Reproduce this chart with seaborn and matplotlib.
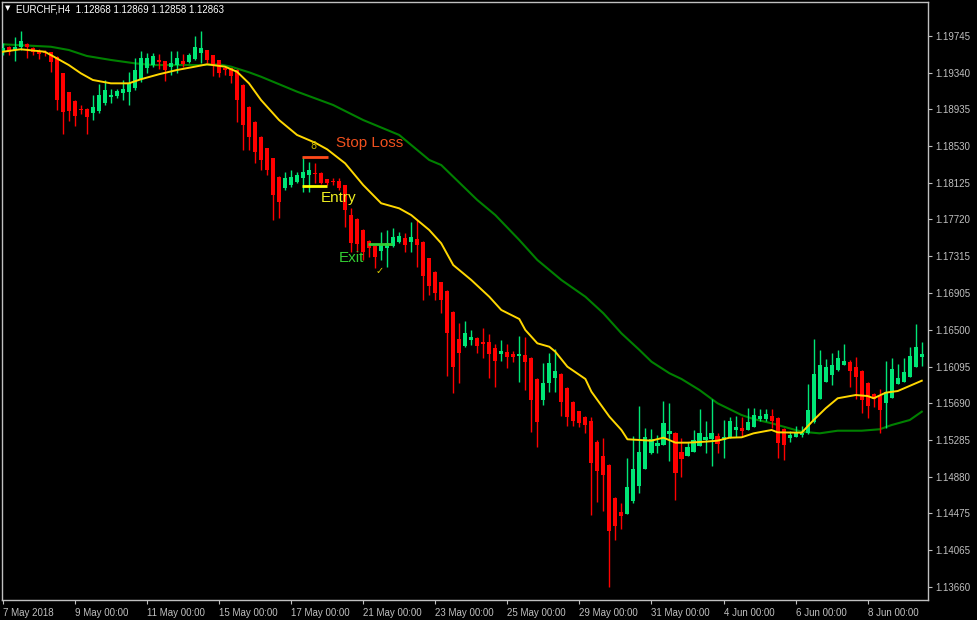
import numpy as np
import pandas as pd
import matplotlib
matplotlib.use("Agg")
import matplotlib.pyplot as plt
import seaborn as sns

# ---------------- data (EURCHF, H4) ----------------
open_ = [1.19571, 1.19626, 1.19590, 1.19626, 1.19653, 1.19609, 1.19582, 1.19571, 1.19565, 1.19516,
         1.19333, 1.19123, 1.19024, 1.18942, 1.18935, 1.18891, 1.18920, 1.19002, 1.19068, 1.19082,
         1.19112, 1.19130, 1.19174, 1.19267, 1.19388, 1.19424, 1.19480, 1.19469, 1.19406, 1.19424,
         1.19472, 1.19454, 1.19487, 1.19554, 1.19590, 1.19535, 1.19480, 1.19395, 1.19388, 1.19369,
         1.19204, 1.18964, 1.18798, 1.18633, 1.18505, 1.18394, 1.18191, 1.18063, 1.18100, 1.18136,
         1.18174, 1.18210, 1.18235, 1.18232, 1.18163, 1.18144, 1.18144, 1.18100, 1.17768, 1.17721,
         1.17603, 1.17485, 1.17426, 1.17371, 1.17401, 1.17426, 1.17474, 1.17511, 1.17474, 1.17507,
         1.17474, 1.17290, 1.17142, 1.17025, 1.16933, 1.16701, 1.16399, 1.16322, 1.16388, 1.16414,
         1.16370, 1.16363, 1.16300, 1.16230, 1.16256, 1.16230, 1.16215, 1.16226, 1.16193, 1.15958,
         1.15726, 1.15917, 1.15966, 1.16013, 1.15859, 1.15704, 1.15601, 1.15538, 1.15494, 1.15262,
         1.15108, 1.15008, 1.14647, 1.14493, 1.14471, 1.14614, 1.14780, 1.14961, 1.15138, 1.15222,
         1.15233, 1.15351, 1.15365, 1.15152, 1.15111, 1.15155, 1.15222, 1.15288, 1.15295, 1.15329,
         1.15284, 1.15318, 1.15395, 1.15420, 1.15395, 1.15431, 1.15513, 1.15516, 1.15550, 1.15527,
         1.15403, 1.15310, 1.15321, 1.15336, 1.15358, 1.15486, 1.15737, 1.15921, 1.16002, 1.16057,
         1.16112, 1.16142, 1.16094, 1.16046, 1.15914, 1.15792, 1.15770, 1.15690, 1.15751, 1.15906,
         1.15925, 1.15983, 1.16094, 1.16197]
high = [1.19667, 1.19634, 1.19737, 1.19800, 1.19664, 1.19626, 1.19601, 1.19590, 1.19571, 1.19524,
        1.19336, 1.19126, 1.19038, 1.18983, 1.18946, 1.19093, 1.19215, 1.19259, 1.19159, 1.19156,
        1.19259, 1.19350, 1.19498, 1.19579, 1.19554, 1.19554, 1.19546, 1.19469, 1.19579, 1.19579,
        1.19543, 1.19560, 1.19745, 1.19800, 1.19590, 1.19535, 1.19480, 1.19406, 1.19391, 1.19380,
        1.19215, 1.18972, 1.18806, 1.18641, 1.18508, 1.18398, 1.18199, 1.18246, 1.18265, 1.18246,
        1.18412, 1.18357, 1.18337, 1.18243, 1.18171, 1.18174, 1.18174, 1.18100, 1.17846, 1.17735,
        1.17614, 1.17492, 1.17437, 1.17584, 1.17603, 1.17622, 1.17584, 1.17566, 1.17694, 1.17713,
        1.17481, 1.17294, 1.17150, 1.17029, 1.16940, 1.16709, 1.16573, 1.16598, 1.16499, 1.16422,
        1.16524, 1.16455, 1.16344, 1.16388, 1.16344, 1.16267, 1.16433, 1.16425, 1.16201, 1.15969,
        1.16138, 1.16248, 1.16289, 1.16024, 1.15870, 1.15715, 1.15605, 1.15544, 1.15542, 1.15284,
        1.15310, 1.15019, 1.14655, 1.14586, 1.15082, 1.15329, 1.15660, 1.15414, 1.15403, 1.15340,
        1.15715, 1.15696, 1.15373, 1.15303, 1.15266, 1.15395, 1.15627, 1.15498, 1.15737, 1.15358,
        1.15505, 1.15542, 1.15550, 1.15542, 1.15634, 1.15634, 1.15623, 1.15627, 1.15623, 1.15538,
        1.15417, 1.15387, 1.15439, 1.15439, 1.15903, 1.16396, 1.16278, 1.16175, 1.16248, 1.16278,
        1.16344, 1.16168, 1.16204, 1.16057, 1.15925, 1.15807, 1.15844, 1.16157, 1.16193, 1.16120,
        1.16186, 1.16314, 1.16565, 1.16363]
low = [1.19535, 1.19535, 1.19472, 1.19590, 1.19502, 1.19535, 1.19491, 1.19524, 1.19350, 1.18928,
       1.18663, 1.18810, 1.18751, 1.18883, 1.18663, 1.18817, 1.18891, 1.18983, 1.19002, 1.19057,
       1.19038, 1.18983, 1.19148, 1.19240, 1.19333, 1.19406, 1.19377, 1.19248, 1.19314, 1.19333,
       1.19406, 1.19443, 1.19480, 1.19450, 1.19443, 1.19303, 1.19295, 1.19314, 1.19222, 1.18798,
       1.18486, 1.18486, 1.18339, 1.18265, 1.18210, 1.17713, 1.17732, 1.18044, 1.18081, 1.18118,
       1.18026, 1.18026, 1.18118, 1.18111, 1.18100, 1.18100, 1.18044, 1.17639, 1.17363, 1.17363,
       1.17272, 1.17308, 1.17180, 1.17272, 1.17198, 1.17418, 1.17456, 1.17363, 1.17363, 1.17198,
       1.16830, 1.16885, 1.16830, 1.16683, 1.15991, 1.15800, 1.15917, 1.16314, 1.16333, 1.16242,
       1.16186, 1.15972, 1.15873, 1.16160, 1.16076, 1.16149, 1.15928, 1.15836, 1.15376, 1.15210,
       1.15671, 1.15818, 1.15818, 1.15553, 1.15439, 1.15439, 1.15431, 1.15367, 1.14456, 1.14603,
       1.14504, 1.13665, 1.14180, 1.14302, 1.14471, 1.14592, 1.14703, 1.14961, 1.15130, 1.15144,
       1.15233, 1.15056, 1.14622, 1.14879, 1.15108, 1.15155, 1.15222, 1.15144, 1.15001, 1.15144,
       1.15089, 1.15303, 1.15314, 1.15321, 1.15395, 1.15431, 1.15498, 1.15494, 1.15414, 1.15089,
       1.15064, 1.15266, 1.15321, 1.15321, 1.15351, 1.15469, 1.15737, 1.15921, 1.15892, 1.16046,
       1.16112, 1.15873, 1.15734, 1.15579, 1.15524, 1.15652, 1.15358, 1.15414, 1.15751, 1.15906,
       1.15925, 1.15983, 1.16094, 1.16101]
close = [1.19609, 1.19571, 1.19626, 1.19693, 1.19626, 1.19571, 1.19546, 1.19554, 1.19461, 1.19038,
         1.18909, 1.18920, 1.18861, 1.18928, 1.18847, 1.18964, 1.19093, 1.19148, 1.19097, 1.19134,
         1.19163, 1.19222, 1.19369, 1.19498, 1.19498, 1.19524, 1.19454, 1.19369, 1.19450, 1.19505,
         1.19435, 1.19532, 1.19626, 1.19615, 1.19480, 1.19424, 1.19339, 1.19369, 1.19303, 1.19038,
         1.18762, 1.18633, 1.18467, 1.18376, 1.18265, 1.17989, 1.17915, 1.18174, 1.18191, 1.18210,
         1.18246, 1.18265, 1.18224, 1.18122, 1.18118, 1.18133, 1.18063, 1.17824, 1.17456, 1.17448,
         1.17363, 1.17401, 1.17308, 1.17437, 1.17456, 1.17529, 1.17537, 1.17437, 1.17529, 1.17437,
         1.17095, 1.16985, 1.16911, 1.16830, 1.16462, 1.16094, 1.16248, 1.16462, 1.16425, 1.16326,
         1.16348, 1.16237, 1.16160, 1.16267, 1.16197, 1.16204, 1.16237, 1.16146, 1.15726, 1.15486,
         1.15914, 1.16131, 1.16046, 1.15707, 1.15542, 1.15494, 1.15475, 1.15450, 1.15027, 1.14946,
         1.14898, 1.14283, 1.14338, 1.14449, 1.14762, 1.14961, 1.15152, 1.15314, 1.15292, 1.15255,
         1.15475, 1.15384, 1.14923, 1.15071, 1.15207, 1.15284, 1.15365, 1.15321, 1.15358, 1.15237,
         1.15321, 1.15494, 1.15425, 1.15384, 1.15483, 1.15557, 1.15550, 1.15568, 1.15491, 1.15255,
         1.15229, 1.15336, 1.15365, 1.15365, 1.15616, 1.16013, 1.16112, 1.16094, 1.16112, 1.16186,
         1.16160, 1.16050, 1.15983, 1.15726, 1.15660, 1.15734, 1.15616, 1.15818, 1.16065, 1.15969,
         1.16035, 1.16212, 1.16308, 1.16230]

# moving averages (bar index, price)
ma_fast_bar = [0, 3, 7, 8, 11, 13, 15, 18, 21, 23, 26, 29, 32, 34, 37, 39, 41, 43, 46, 49,
               52, 54, 57, 60, 63, 66, 68, 71, 73, 75, 78, 81, 83, 86, 87, 89, 91, 92, 94, 97,
               98, 99, 101, 103, 104, 108, 110, 112, 114, 117, 119, 121, 123, 125, 128, 129, 133,
               135, 137, 139, 142, 144, 145, 147, 149, 153]
ma_fast = [1.19571, 1.19598, 1.19571, 1.19535, 1.19424, 1.19333, 1.19259, 1.19222, 1.19222, 1.19267,
           1.19322, 1.19369, 1.19406, 1.19432, 1.19406, 1.19350, 1.19222, 1.19038, 1.18817, 1.18652,
           1.18567, 1.18494, 1.18339, 1.18100, 1.17898, 1.17842, 1.17768, 1.17603, 1.17456, 1.17216,
           1.17051, 1.16866, 1.16720, 1.16620, 1.16499, 1.16352, 1.16314, 1.16259, 1.16094, 1.15958,
           1.15818, 1.15726, 1.15542, 1.15395, 1.15292, 1.15277, 1.15310, 1.15255, 1.15255, 1.15266,
           1.15277, 1.15310, 1.15314, 1.15358, 1.15395, 1.15369, 1.15365, 1.15505, 1.15634, 1.15745,
           1.15781, 1.15770, 1.15745, 1.15807, 1.15825, 1.15939]
ma_slow_bar = [0, 8, 11, 14, 18, 22, 25, 30, 33, 36, 38, 41, 43, 49, 55, 60, 66, 71, 73, 79,
               82, 86, 89, 93, 97, 100, 103, 106, 108, 111, 113, 116, 119, 123, 125, 128, 129,
               133, 136, 139, 143, 146, 148, 151, 153]
ma_slow = [1.19653, 1.19626, 1.19590, 1.19524, 1.19480, 1.19443, 1.19424, 1.19424, 1.19424, 1.19432,
           1.19406, 1.19344, 1.19295, 1.19130, 1.18983, 1.18817, 1.18652, 1.18376, 1.18320, 1.17934,
           1.17768, 1.17492, 1.17272, 1.17051, 1.16866, 1.16683, 1.16462, 1.16278, 1.16149, 1.16021,
           1.15958, 1.15836, 1.15690, 1.15560, 1.15516, 1.15469, 1.15450, 1.15376, 1.15358, 1.15387,
           1.15387, 1.15403, 1.15450, 1.15505, 1.15597]

date_labels = ["7 May 2018", "9 May 00:00", "11 May 00:00", "15 May 00:00", "17 May 00:00",
               "21 May 00:00", "23 May 00:00", "25 May 00:00", "29 May 00:00", "31 May 00:00",
               "4 Jun 00:00", "6 Jun 00:00", "8 Jun 00:00"]
price_ticks = [1.19745, 1.19340, 1.18935, 1.18530, 1.18125, 1.17720, 1.17315, 1.16905,
               1.16500, 1.16095, 1.15690, 1.15285, 1.14880, 1.14475, 1.14065, 1.13660]

title_text = "EURCHF,H4  1.12868 1.12869 1.12858 1.12863"
stop_loss_level = 1.18414
entry_level = 1.18094
exit_level = 1.17448

# ---------------- drawing ----------------
W, H = 977, 620
fig = plt.figure(figsize=(W / 100, H / 100), dpi=100, facecolor="black")
ax = fig.add_axes([2 / W, 1 - 600 / H, (928 - 2) / W, (600 - 2) / H])
ax.set_facecolor("black")

n = len(open_)
idx = np.arange(n)
o = np.array(open_); c = np.array(close); hi = np.array(high); lo = np.array(low)
up = c >= o
GREEN = "#00e676"
RED = "#ff0000"
cols = np.where(up, GREEN, RED)

# moving averages through seaborn
df_fast = pd.DataFrame({"bar": ma_fast_bar, "price": ma_fast})
df_slow = pd.DataFrame({"bar": ma_slow_bar, "price": ma_slow})
sns.lineplot(data=df_slow, x="bar", y="price", ax=ax, color="#008000", linewidth=1.5, zorder=2)
sns.lineplot(data=df_fast, x="bar", y="price", ax=ax, color="#ffd700", linewidth=1.4, zorder=4)

# candles
ax.vlines(idx, lo, hi, colors=cols, linewidth=1.0, zorder=3)
body_low = np.minimum(o, c)
body_h = np.maximum(np.abs(c - o), 0.00009)
ax.bar(idx, body_h, bottom=body_low, width=0.68, color=cols, linewidth=0, zorder=3)

# trade annotations
ax.hlines(stop_loss_level, 49.8, 54.1, colors="#ff4a1a", linewidth=2, zorder=5)
ax.hlines(entry_level, 49.8, 54.0, colors="#ffff00", linewidth=2, zorder=5)
ax.hlines(exit_level, 60.8, 64.8, colors="#33cc33", linewidth=2, zorder=5)
ax.text(55.5, 1.18563, "Stop Loss", color="#f0501e", fontsize=11, family="Liberation Sans",
        va="center", ha="left", zorder=6)
ax.text(53.0, 1.17956, "Entry", color="#f0f020", fontsize=11, family="Liberation Sans",
        va="center", ha="left", zorder=6)
ax.text(56.0, 1.17294, "Exit", color="#33cc33", fontsize=11, family="Liberation Sans",
        va="center", ha="left", zorder=6)
ax.text(62.8, 1.17150, "\u2713", color="#e0d000", fontsize=7, va="center", ha="center", zorder=6)
ax.text(51.7, 1.18530, "8", color="#c8b400", fontsize=7, va="center", ha="center", zorder=6)

# axes
ax.set_xlim(-0.12, (928 - 2.7) / 6.007)
ax.set_ylim((12014.2 - 1.104 * 600) / 10000, (12014.2 - 1.104 * 2) / 10000)
ax.set_xlabel("")
ax.set_ylabel("")
ax.yaxis.tick_right()
ax.set_yticks(price_ticks)
ax.set_yticklabels([f"{p:.5f}" for p in price_ticks], family="Liberation Sans")
ax.set_xticks([12 * k for k in range(len(date_labels))])
ax.set_xticklabels(date_labels, ha="left", family="Liberation Sans")
ax.tick_params(axis="both", colors="#c0c0c0", labelsize=7, length=3, width=0.8, pad=2)
ax.tick_params(axis="x", pad=3)
for sp in ax.spines.values():
    sp.set_color("#c0c0c0")
    sp.set_linewidth(1)
ax.grid(False)

fig.text(5 / W, 1 - 8 / H, "\u25BC", color="white", fontsize=5, va="center", ha="left")
fig.text(16 / W, 1 - 9 / H, title_text, color="white", fontsize=7, family="Liberation Sans",
         va="center", ha="left")

fig.savefig("out.png", dpi=100, facecolor="black")
